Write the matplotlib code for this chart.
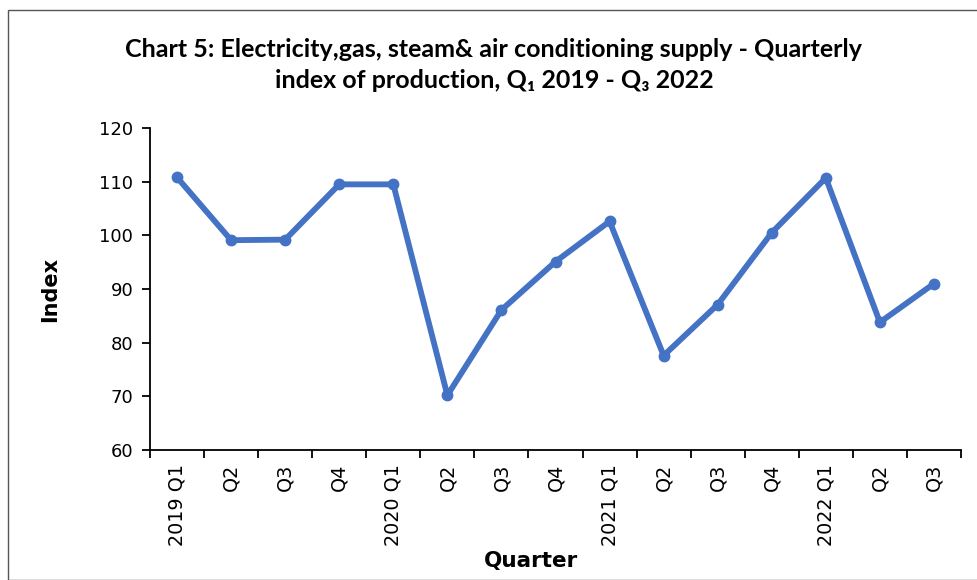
import matplotlib
matplotlib.use("Agg")
import matplotlib.pyplot as plt
from matplotlib.patches import Rectangle

quarters = ["2019 Q1", "Q2", "Q3", "Q4",
            "2020 Q1", "Q2", "Q3", "Q4",
            "2021 Q1", "Q2", "Q3", "Q4",
            "2022 Q1", "Q2", "Q3"]
index_values = [110.8, 99.1, 99.2, 109.5,
                109.5, 70.2, 86.1, 95.1,
                102.6, 77.6, 87.1, 100.5,
                110.7, 83.8, 91.0]
y_ticks = [60, 70, 80, 90, 100, 110, 120]

line_color = "#4472C4"

fig = plt.figure(figsize=(9.78, 5.80), dpi=100)
ax = fig.add_axes([0.1534, 0.2241, 0.8292, 0.5552])

x = list(range(len(quarters)))
ax.plot(x, index_values, color=line_color, linewidth=4.2,
        marker="o", markersize=7.5, solid_joinstyle="round")

ax.set_xlim(-0.5, len(quarters) - 0.5)
ax.set_ylim(60, 120)
ax.set_yticks(y_ticks)
ax.set_xticks(x)
ax.set_xticklabels(quarters, rotation=90, fontsize=13.8)
ax.set_xticks([i - 0.5 for i in range(len(quarters) + 1)], minor=True)
ax.tick_params(axis="x", which="major", length=0, pad=10)
ax.tick_params(axis="x", which="minor", length=6, width=1.3)
ax.tick_params(axis="y", length=6, width=1.3, labelsize=13, pad=6)

for side in ["top", "right"]:
    ax.spines[side].set_visible(False)
for side in ["left", "bottom"]:
    ax.spines[side].set_linewidth(1.3)

ax.set_ylabel("Index", fontsize=15, fontweight="bold", labelpad=28)
ax.set_xlabel("Quarter", fontsize=15.5, fontweight="bold")
ax.xaxis.set_label_coords(0.47, -0.315)

fig.text(0.505, 0.888,
         "Chart 5: Electricity,gas, steam& air conditioning supply - Quarterly\n"
         "index of production, Q\u2081 2019 - Q\u2083 2022",
         ha="center", va="center", fontsize=18, fontweight="bold",
         family=["Lato", "DejaVu Sans"], linespacing=1.4)

fig.patches.append(Rectangle((0.008, 0.0), 0.992, 0.983, transform=fig.transFigure,
                             fill=False, edgecolor="#555555", linewidth=1.0))

fig.savefig("out.png", dpi=100)
